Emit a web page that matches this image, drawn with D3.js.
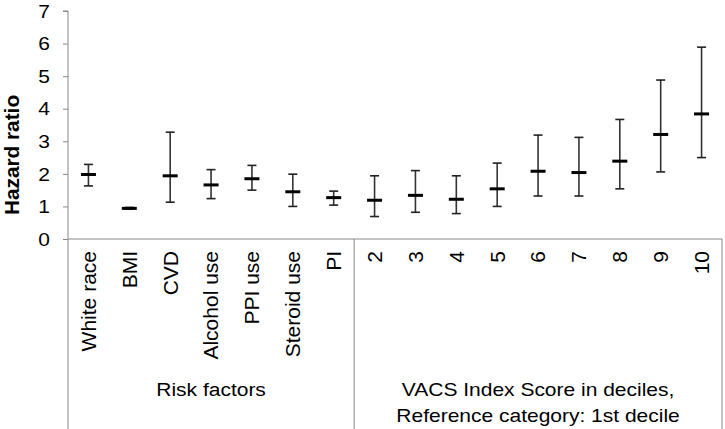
<!DOCTYPE html>
<html><head><meta charset="utf-8">
<script src="https://cdn.jsdelivr.net/npm/d3@7"></script>
<style>
html,body{margin:0;padding:0;background:#fff;}
svg{display:block;font-family:"Liberation Sans",Arial,sans-serif;}
</style></head>
<body><svg id="c" width="725" height="429"></svg>
<script>
const categories = ["White race","BMI","CVD","Alcohol use","PPI use","Steroid use","PI","2","3","4","5","6","7","8","9","10"];
const hazardRatio = [1.98,0.94,1.94,1.66,1.85,1.45,1.27,1.19,1.34,1.22,1.54,2.08,2.04,2.39,3.21,3.84];
const ciLow  = [1.63,0.92,1.13,1.24,1.50,1.00,1.04,0.69,0.82,0.78,1.00,1.32,1.32,1.54,2.06,2.50];
const ciHigh = [2.29,0.97,3.28,2.13,2.26,1.99,1.47,1.94,2.10,1.94,2.33,3.19,3.12,3.67,4.88,5.89];
const yTicks = [0,1,2,3,4,5,6,7];
const groupLabels = [["Risk factors"],["VACS Index Score in deciles,","Reference category: 1st decile"]];
const groupStart = [0,7];
const groupEnd = [6,15];
const yTitle = "Hazard ratio";

(function(){
const svg = d3.select("#c");
const W = 725, H = 429;
const mLeft = 68, mRight = 722, mTop = 11, mBottom = 239;
const x = d3.scaleBand().domain(categories).range([mLeft, mRight]).padding(0);
const y = d3.scaleLinear().domain([0, 7]).range([mBottom, mTop]);
const axisColor = "#888";
const squash = 0.84;

// Y axis
const ya = svg.append("g").attr("transform", `translate(${mLeft},0)`)
  .call(d3.axisLeft(y).tickValues(yTicks).tickSize(5).tickPadding(13).tickFormat(d3.format("d")));
ya.select(".domain").attr("stroke", axisColor).attr("d", `M-5,${y(7)}H0V${H}`);
ya.selectAll(".tick line").attr("stroke", axisColor);
ya.selectAll(".tick text").attr("font-size", 21).attr("fill", "#000")
  .attr("font-family", "Liberation Sans, Arial, sans-serif")
  .attr("dy", "0.35em").attr("transform", `scale(1,${squash})`);

// X axis line
svg.append("line").attr("x1", mLeft).attr("x2", mRight).attr("y1", y(0)).attr("y2", y(0))
  .attr("stroke", axisColor).attr("stroke-width", 1);
groupEnd.forEach(e => {
  const xx = x(categories[e]) + x.bandwidth();
  svg.append("line").attr("x1", xx).attr("x2", xx).attr("y1", y(0)).attr("y2", H)
    .attr("stroke", axisColor).attr("stroke-width", 1);
});

// Category labels (rotated)
svg.append("g").selectAll("text").data(categories).join("text")
  .attr("transform", d => `translate(${x(d) + x.bandwidth()/2},${y(0) + 12}) rotate(-90)`)
  .attr("text-anchor", "end").attr("dy", "0.35em")
  .attr("font-size", 21).attr("fill", "#000").text(d => d);

// Group labels
groupLabels.forEach((lines, i) => {
  const cx = (x(categories[groupStart[i]]) + x(categories[groupEnd[i]]) + x.bandwidth()) / 2;
  lines.forEach((t, j) => {
    svg.append("text")
      .attr("transform", `translate(${cx},${396 + j*26}) scale(1,${squash})`)
      .attr("text-anchor", "middle").attr("font-size", 21).attr("fill", "#000").text(t);
  });
});

// Y title
svg.append("text").attr("transform", `translate(19,155) rotate(-90)`)
  .attr("text-anchor", "middle").attr("font-size", 20.8).attr("font-weight", "bold")
  .attr("fill", "#000").text(yTitle);

// Error bars
const idx = d3.range(categories.length);
const g = svg.append("g");
const cxOf = i => x(categories[i]) + x.bandwidth()/2;
g.selectAll(".wh").data(idx).join("line").attr("class", "wh")
  .attr("x1", cxOf).attr("x2", cxOf).attr("y1", i => y(ciLow[i])).attr("y2", i => y(ciHigh[i]))
  .attr("stroke", "#333").attr("stroke-width", 1.6);
["lo","hi"].forEach(k => {
  const arr = k === "lo" ? ciLow : ciHigh;
  g.selectAll(".cap" + k).data(idx).join("line").attr("class", "cap" + k)
    .attr("x1", i => cxOf(i) - 4.5).attr("x2", i => cxOf(i) + 4.5)
    .attr("y1", i => y(arr[i])).attr("y2", i => y(arr[i]))
    .attr("stroke", "#222").attr("stroke-width", 1.6);
});
g.selectAll(".pt").data(idx).join("line").attr("class", "pt")
  .attr("x1", i => cxOf(i) - 7.5).attr("x2", i => cxOf(i) + 7.5)
  .attr("y1", i => y(hazardRatio[i])).attr("y2", i => y(hazardRatio[i]))
  .attr("stroke", "#000").attr("stroke-width", 3);
})();
</script></body></html>
